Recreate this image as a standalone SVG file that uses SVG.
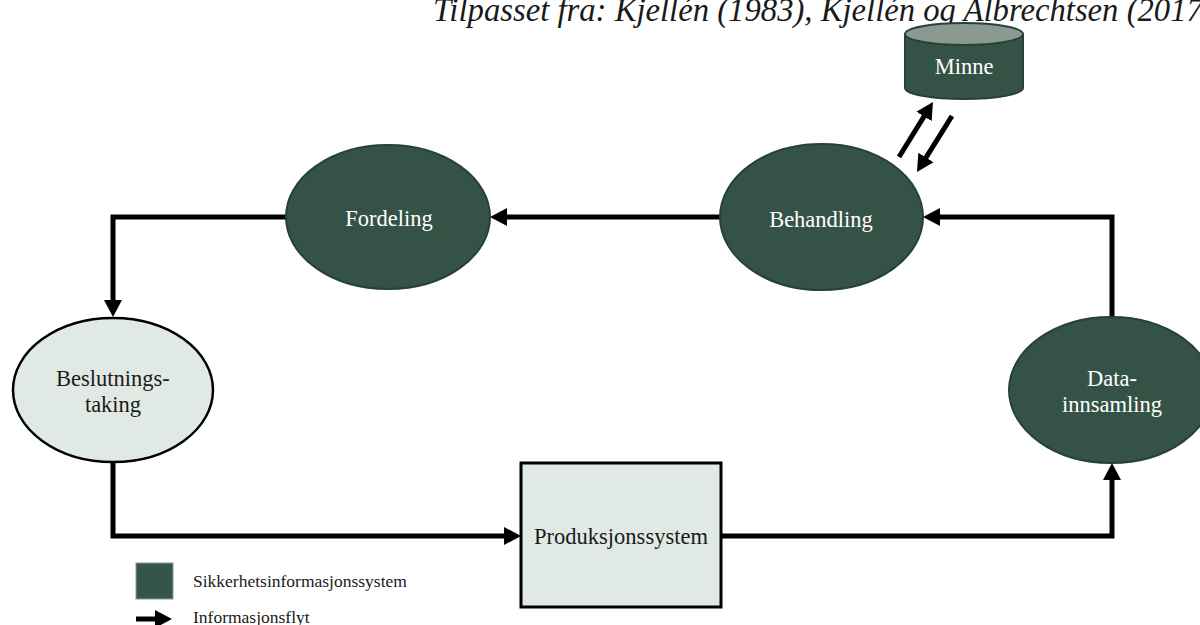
<svg xmlns="http://www.w3.org/2000/svg" width="1200" height="625" viewBox="0 0 1200 625">
<style>
  .t { font-family: "Liberation Serif", "Times New Roman", serif; font-size: 22.5px; text-anchor: middle; }
  .w { fill: #ffffff; }
  .d { fill: #1a1a1a; }
  .dark { fill: #345346; stroke: #27403a; stroke-width: 2; }
  .light { fill: #e1e9e5; stroke: #000000; stroke-width: 2.5; }
  .c { fill: none; stroke: #000000; stroke-width: 5; stroke-linejoin: miter; }
  .lg { font-family: "Liberation Serif", "Times New Roman", serif; font-size: 17.5px; fill: #1a1a1a; }
</style>
<defs>
  <marker id="ah" markerWidth="18" markerHeight="18" refX="3" refY="9" orient="auto" markerUnits="userSpaceOnUse">
    <path d="M0,0 L17,9 L0,18 z" fill="#000000"/>
  </marker>
</defs>
<rect width="1200" height="625" fill="#ffffff"/>

<text x="433" y="21" font-family="Liberation Serif, Times New Roman, serif" font-style="italic" font-size="32.7" fill="#1a1a1a">Tilpasset fra: Kjellén (1983), Kjellén og Albrechtsen (2017)</text>

<g id="connectors">
  <path class="c" d="M720,217 H504" marker-end="url(#ah)"/>
  <path class="c" d="M286,217 H113 V303" marker-end="url(#ah)"/>
  <path class="c" d="M113,462 V536 H507" marker-end="url(#ah)"/>
  <path class="c" d="M722,536 H1112 V477" marker-end="url(#ah)"/>
  <path class="c" d="M1112,317 V217 H937" marker-end="url(#ah)"/>
  <path class="c" d="M899,157 L925.6,113.9" marker-end="url(#ah)"/>
  <path class="c" d="M952,116 L924.4,160.1" marker-end="url(#ah)"/>
</g>

<g id="minne">
  <path class="dark" d="M905,34 V88 A59,11 0 0 0 1023,88 V34"/>
  <ellipse cx="964" cy="34" rx="59" ry="11" fill="#8a9a90" stroke="#27403a" stroke-width="2"/>
  <text class="t w" x="964" y="74">Minne</text>
</g>

<g id="behandling">
  <ellipse class="dark" cx="821.5" cy="217" rx="101.5" ry="73"/>
  <text class="t w" x="821" y="227">Behandling</text>
</g>

<g id="fordeling">
  <ellipse class="dark" cx="388" cy="217" rx="102" ry="72"/>
  <text class="t w" x="389" y="226">Fordeling</text>
</g>

<g id="beslutningstaking">
  <ellipse class="light" cx="113" cy="390" rx="100" ry="72"/>
  <text class="t d" x="113" y="386">Beslutnings-</text>
  <text class="t d" x="113" y="412">taking</text>
</g>

<g id="datainnsamling">
  <ellipse class="dark" cx="1111" cy="390" rx="102" ry="73"/>
  <text class="t w" x="1112" y="386">Data-</text>
  <text class="t w" x="1112" y="412">innsamling</text>
</g>

<g id="produksjonssystem">
  <rect x="521" y="463" width="200" height="144" fill="#e1e9e5" stroke="#000000" stroke-width="3"/>
  <text class="t d" x="621" y="544">Produksjonssystem</text>
</g>

<g id="legend">
  <rect x="136" y="563" width="37" height="36" fill="#36554a" stroke="#8a9a90" stroke-width="1"/>
  <text class="lg" x="193" y="587">Sikkerhetsinformasjonssystem</text>
  <path class="c" d="M136,619 H158" marker-end="url(#ah)"/>
  <text class="lg" x="193" y="623">Informasjonsflyt</text>
</g>
</svg>
